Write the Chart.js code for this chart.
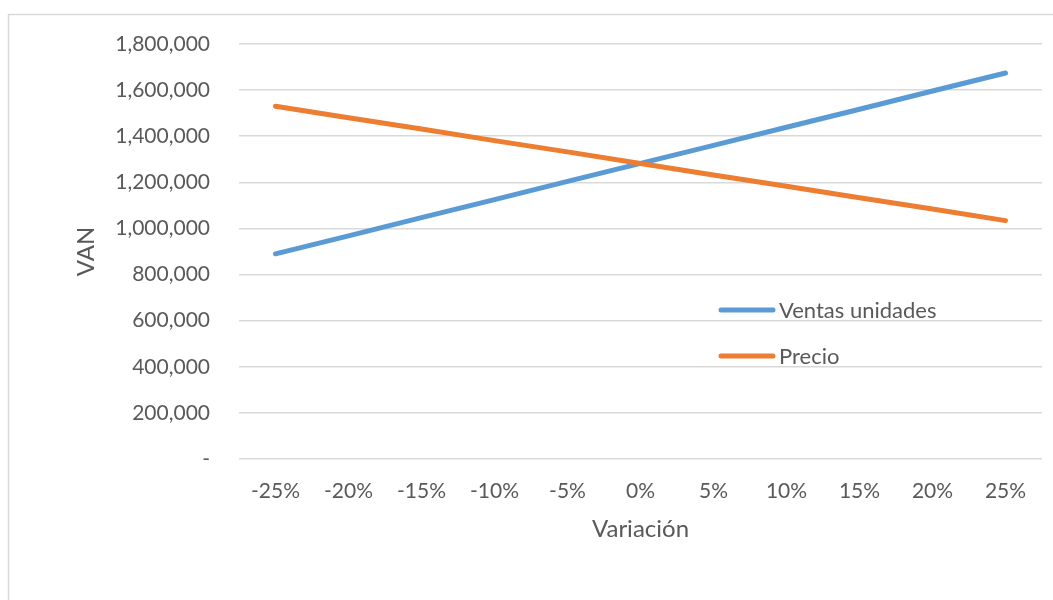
<!DOCTYPE html>
<html>
<head>
<meta charset="utf-8">
<script src="https://cdn.jsdelivr.net/npm/chart.js@4"></script>
<style>
  html, body { margin: 0; padding: 0; background: #ffffff; }
  #wrap { width: 1053px; height: 600px; position: relative; }
</style>
</head>
<body>
<div id="wrap"><canvas id="c" width="1053" height="600"></canvas></div>
<script>
// Sensitivity of VAN to a change in each variable
const variaciones = ['-25%', '-20%', '-15%', '-10%', '-5%', '0%', '5%', '10%', '15%', '20%', '25%'];
const ventasUnidades = [890000, 968000, 1047000, 1125000, 1204000, 1282000, 1360000, 1439000, 1517000, 1596000, 1674000];
const precio = [1530000, 1480000, 1431000, 1381000, 1332000, 1282000, 1232000, 1183000, 1133000, 1084000, 1034000];
const seriesNames = ['Ventas unidades', 'Precio'];
const axisTitles = { x: 'Variación', y: 'VAN' };

const colors = ['#5b9bd5', '#ed7d31'];
const textColor = '#595959';
const gridColor = '#d9d9d9';
const fontFamily = 'Lato, "Open Sans", sans-serif';

// Outer frame of the chart object
const framePlugin = {
  id: 'frame',
  beforeDraw(chart) {
    const ctx = chart.ctx;
    ctx.save();
    ctx.fillStyle = '#ffffff';
    ctx.fillRect(0, 0, chart.width, chart.height);
    ctx.strokeStyle = gridColor;
    ctx.lineWidth = 1.5;
    ctx.strokeRect(8.5, 14.5, chart.width + 20, chart.height + 20);
    ctx.restore();
  }
};

// Legend placed inside the plot area
const insideLegend = {
  id: 'insideLegend',
  afterDraw(chart) {
    const ctx = chart.ctx;
    const x0 = 721, x1 = 773, textX = 779;
    const rows = [310, 356];
    ctx.save();
    ctx.font = '22px ' + fontFamily;
    ctx.textBaseline = 'middle';
    ctx.textAlign = 'left';
    chart.data.datasets.forEach((ds, i) => {
      const y = rows[i];
      ctx.strokeStyle = ds.borderColor;
      ctx.lineWidth = 5;
      ctx.lineCap = 'round';
      ctx.beginPath();
      ctx.moveTo(x0, y);
      ctx.lineTo(x1, y);
      ctx.stroke();
      ctx.fillStyle = textColor;
      ctx.fillText(ds.label, textX, y + 1);
    });
    ctx.restore();
  }
};

new Chart(document.getElementById('c'), {
  type: 'line',
  data: {
    labels: variaciones,
    datasets: [
      { label: seriesNames[0], data: ventasUnidades, borderColor: colors[0], backgroundColor: colors[0], order: 1 },
      { label: seriesNames[1], data: precio, borderColor: colors[1], backgroundColor: colors[1], order: 0 }
    ]
  },
  options: {
    responsive: false,
    animation: false,
    devicePixelRatio: 1,
    layout: { padding: { left: 0, right: 11, top: 44, bottom: 0 } },
    elements: {
      line: { borderWidth: 5, borderCapStyle: 'round', borderJoinStyle: 'round', tension: 0 },
      point: { radius: 0, hoverRadius: 0 }
    },
    plugins: {
      legend: { display: false },
      tooltip: { enabled: false }
    },
    scales: {
      x: {
        offset: true,
        grid: { display: false, drawTicks: false },
        border: { display: false },
        ticks: { color: textColor, font: { family: fontFamily, size: 21 }, padding: 20, maxRotation: 0, autoSkip: false },
        title: { display: true, text: axisTitles.x, color: textColor, font: { family: fontFamily, size: 24 }, padding: { top: 0, bottom: 56 } },
        afterFit(scale) { scale.height = 141; }
      },
      y: {
        min: 0,
        max: 1800000,
        grid: { color: gridColor, lineWidth: 1.5, drawTicks: false },
        border: { display: false },
        ticks: {
          stepSize: 200000,
          color: textColor,
          font: { family: fontFamily, size: 21 },
          padding: 29,
          callback: (v) => v === 0 ? '-' : Number(v).toLocaleString('en-US')
        },
        title: { display: true, text: axisTitles.y, color: textColor, font: { family: fontFamily, size: 24 }, padding: { top: 72, bottom: 0 } },
        afterFit(scale) { scale.width = 239; }
      }
    }
  },
  plugins: [framePlugin, insideLegend]
});
</script>
</body>
</html>
